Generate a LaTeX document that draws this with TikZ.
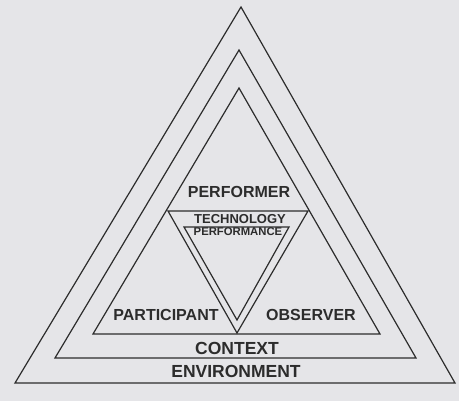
\documentclass[tikz,border=0pt]{standalone}
\usepackage{xcolor}
\usepackage{fontspec}
\setsansfont{Liberation Sans}
\usepackage{tikz}
\usetikzlibrary{positioning,calc}

\definecolor{paper}{HTML}{E5E5E8}
\definecolor{ink}{HTML}{2C2C2C}

\newcommand{\labelsize}[1]{\fontsize{#1}{#1}\selectfont}

\begin{document}
\begin{tikzpicture}[
  x=1pt, y=-1pt,
  every node/.style={font=\sffamily\bfseries, text=ink, inner sep=0pt},
  tri/.style={draw=ink, line width=1.2pt, line join=miter},
  big/.style={font=\sffamily\bfseries\labelsize{17.5}},
  mid/.style={font=\sffamily\bfseries\labelsize{16}},
]
% paper
\fill[paper] (0,0) rectangle (459,401);

% triangle corners
\coordinate (envtop) at (241,7);
\coordinate (envleft) at (15,383);
\coordinate (envright) at (455,383);
\coordinate (ctxtop) at (239,50);
\coordinate (ctxleft) at (55,358);
\coordinate (ctxright) at (416,358);
\coordinate (roletop) at (239,88);
\coordinate (roleleft) at (93,334);
\coordinate (roleright) at (380,334);
\coordinate (techleft) at (168,211);
\coordinate (techright) at (308,211);
\coordinate (techtip) at (237,333);
\coordinate (perfleft) at (184,227);
\coordinate (perfright) at (289,227);
\coordinate (perftip) at (237,320);

% nested triangles
\draw[tri] (envtop) -- (envleft) -- (envright) -- cycle;
\draw[tri] (ctxtop) -- (ctxleft) -- (ctxright) -- cycle;
\draw[tri] (roletop) -- (roleleft) -- (roleright) -- cycle;
\draw[tri] (techleft) -- (techright) -- (techtip) -- cycle;
\draw[tri] (perfleft) -- (perfright) -- (perftip) -- cycle;

% labels
\node[mid] (performer) at (239,192) {PERFORMER};
\node[font=\sffamily\bfseries\labelsize{13}] (technology) at (240,219) {TECHNOLOGY};
\node[font=\sffamily\bfseries\labelsize{11.3}] (performance) at (238,232) {PERFORMANCE};
\node[mid] (participant) at (166,315) {PARTICIPANT};
\node[mid] (observer) at (311,315) {OBSERVER};
\node[big] (context) at (237,348) {CONTEXT};
\node[big] (environment) at (236,371) {ENVIRONMENT};
\end{tikzpicture}
\end{document}
